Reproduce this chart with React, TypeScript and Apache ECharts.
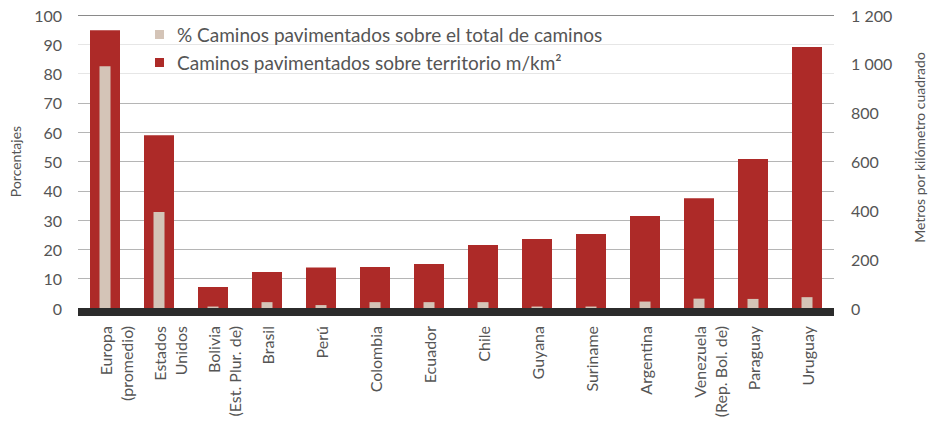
import React, { useEffect, useRef } from "react";
import * as echarts from "echarts";

const categories = [
  "Europa\n(promedio)",
  "Estados\nUnidos",
  "Bolivia\n(Est. Plur. de)",
  "Brasil",
  "Perú",
  "Colombia",
  "Ecuador",
  "Chile",
  "Guyana",
  "Suriname",
  "Argentina",
  "Venezuela\n(Rep. Bol. de)",
  "Paraguay",
  "Uruguay",
];

const pctPaved = [82.5, 32.8, 0.5, 2.0, 1.0, 2.0, 2.0, 2.0, 0.5, 0.5, 2.2, 3.2, 3.1, 3.7];
const metersPerKm2 = [1138, 708, 86, 147, 166, 168, 180, 258, 283, 303, 377, 450, 610, 1069];

const leftTicks = { min: 0, max: 100, interval: 10 };
const rightTicks = { min: 0, max: 1200, interval: 200 };

const seriesNames = [
  "% Caminos pavimentados sobre el total de caminos",
  "Caminos pavimentados sobre territorio m/km²",
];

const FONT = "Lato";
const TEXT = "#555555";

export default function App() {
  const ref = useRef<HTMLDivElement>(null);
  useEffect(() => {
    if (!ref.current) return;
    const chart = echarts.init(ref.current, null, { renderer: "svg" });
    const grid = "#b5b5b5";
    chart.setOption({
      animation: false,
      textStyle: { fontFamily: FONT },
      grid: { left: 74, right: 95, top: 15, bottom: 118, containLabel: false },
      legend: {
        orient: "vertical",
        left: 150,
        top: 20,
        icon: "rect",
        itemWidth: 9,
        itemHeight: 9,
        itemGap: 9,
        data: seriesNames,
        textStyle: { fontFamily: FONT, fontSize: 19, color: TEXT, padding: [0, 0, 0, 8] },
      },
      xAxis: [
        {
          type: "category",
          data: categories,
          offset: 4,
          axisLine: { onZero: false, lineStyle: { color: "#2b2b2b", width: 8, cap: "butt" } },
          axisTick: { show: false },
          axisLabel: {
            rotate: 90,
            margin: 14,
            interval: 0,
            fontFamily: FONT,
            fontSize: 16,
            color: TEXT,
            lineHeight: 21,
            formatter: (v: string) => (v.indexOf("\n") >= 0 ? "\n" + v : v),
          },
        },
        { type: "category", data: categories, show: false },
      ],
      yAxis: [
        {
          type: "value",
          ...leftTicks,
          position: "left",
          name: "Porcentajes",
          nameLocation: "middle",
          nameGap: 56,
          nameTextStyle: { fontFamily: FONT, fontSize: 14, color: TEXT },
          axisLine: { show: false },
          axisTick: { show: false },
          axisLabel: { margin: 16, fontFamily: FONT, fontSize: 16, color: TEXT },
          splitLine: {
            lineStyle: {
              width: 1,
              color: [grid, grid, grid, grid, grid, grid, grid, grid, "#e6e6e6", "#e6e6e6", "#8a8a8a"],
            },
          },
        },
        {
          type: "value",
          ...rightTicks,
          position: "right",
          name: "Metros por kilómetro cuadrado",
          nameLocation: "middle",
          nameGap: 78,
          nameTextStyle: { fontFamily: FONT, fontSize: 14, color: TEXT, padding: [0, 0, 0, 28] },
          axisLine: { show: false },
          axisTick: { show: false },
          splitLine: { show: false },
          axisLabel: {
            margin: 17,
            fontFamily: FONT,
            fontSize: 16,
            color: TEXT,
            formatter: (v: number) => String(v).replace(/\B(?=(\d{3})+(?!\d))/g, " "),
          },
        },
      ],
      series: [
        {
          name: seriesNames[1],
          type: "bar",
          xAxisIndex: 0,
          yAxisIndex: 1,
          data: metersPerKm2,
          barWidth: 30,
          itemStyle: { color: "#ad2a28" },
        },
        {
          name: seriesNames[0],
          type: "bar",
          xAxisIndex: 1,
          yAxisIndex: 0,
          data: pctPaved,
          barWidth: 11,
          itemStyle: { color: "#d4c4b7" },
          z: 3,
        },
      ],
    });
    return () => chart.dispose();
  }, []);
  return (
    <div
      ref={ref}
      style={{ position: "fixed", left: 0, top: 0, width: 934, height: 426, background: "#fff" }}
    />
  );
}
